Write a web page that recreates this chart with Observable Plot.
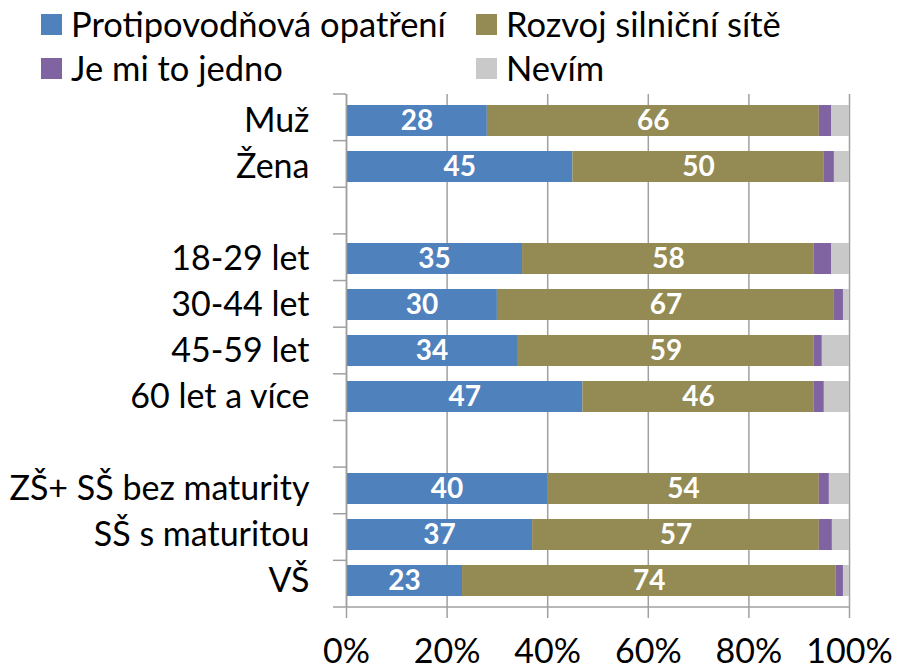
<!DOCTYPE html>
<html>
<head>
<meta charset="utf-8">
<script src="https://cdn.jsdelivr.net/npm/d3@7"></script>
<script src="https://cdn.jsdelivr.net/npm/@observablehq/plot@0.6"></script>
<style>
  html, body { margin: 0; padding: 0; background: #fff; }
  body { width: 906px; height: 669px; overflow: hidden; font-family: Lato, "Open Sans", sans-serif; }
  #legend { position: relative; width: 906px; height: 90px; }
  #chart svg { display: block; }
  .item { position: absolute; display: flex; align-items: center; font-size: 34.5px; color: #000; line-height: 1; white-space: nowrap; }
  .sw { width: 21px; height: 21px; margin-right: 9px; flex: none; }
</style>
</head>
<body>
<div id="legend"></div>
<div id="chart"></div>
<script>
const categories = ["Muž", "Žena", " ", "18-29 let", "30-44 let", "45-59 let", "60 let a více", "  ", "ZŠ+ SŠ bez maturity", "SŠ s maturitou", "VŠ"];
const groups = ["Muž", "Žena", "18-29 let", "30-44 let", "45-59 let", "60 let a více", "ZŠ+ SŠ bez maturity", "SŠ s maturitou", "VŠ"];
const series = ["Protipovodňová opatření", "Rozvoj silniční sítě", "Je mi to jedno", "Nevím"];
const colors = ["#4f81bd", "#948a54", "#8064a2", "#c9c9c9"];
const protipovodnova = [28, 45, 35, 30, 34, 47, 40, 37, 23];
const rozvoj = [66, 50, 58, 67, 59, 46, 54, 57, 74];
const jedno = [2.5, 2, 3.5, 1.8, 1.6, 2, 2, 2.6, 1.5];
const nevim = [3.5, 3, 3.5, 1.2, 5.4, 5, 4, 3.4, 1.2];
const labeled = ["Protipovodňová opatření", "Rozvoj silniční sítě"];
const xTicks = [0, 0.2, 0.4, 0.6, 0.8, 1];

const valuesBySeries = [protipovodnova, rozvoj, jedno, nevim];
const rows = [];
groups.forEach((g, i) => {
  series.forEach((s, j) => rows.push({category: g, series: s, value: valuesBySeries[j][i]}));
});

// legend
const legendPos = [[41, 14], [476, 14], [41, 58], [476, 58]];
const legend = document.getElementById("legend");
series.forEach((s, i) => {
  const it = document.createElement("div");
  it.className = "item";
  it.style.left = legendPos[i][0] + "px";
  it.style.top = (legendPos[i][1] - 7) + "px";
  it.style.height = "35px";
  const sw = document.createElement("span");
  sw.className = "sw";
  sw.style.background = colors[i];
  const tx = document.createElement("span");
  tx.textContent = s;
  it.appendChild(sw); it.appendChild(tx);
  legend.appendChild(it);
});

const gray = "#a0a0a0";
const n = categories.length;

function boundaryTicks(index, scales, values, dims) {
  const g = d3.create("svg:g").attr("stroke", gray).attr("stroke-width", 1.5);
  const top = dims.marginTop, bottom = dims.height - dims.marginBottom;
  for (let i = 0; i <= n; i++) {
    const y = top + (bottom - top) * i / n;
    g.append("line")
      .attr("x1", dims.marginLeft - 13)
      .attr("x2", i === n ? dims.width - dims.marginRight : dims.marginLeft)
      .attr("y1", y).attr("y2", y);
  }
  return g.node();
}

const stackOpts = {x: "value", y: "category", z: "series", offset: "normalize", order: null};

const chart = Plot.plot({
  width: 906,
  height: 579,
  marginTop: 4,
  marginBottom: 62,
  marginLeft: 346,
  marginRight: 57,
  style: {fontFamily: "Lato, 'Open Sans', sans-serif", color: "#000", background: "#fff"},
  x: {domain: [0, 1], axis: null, label: null},
  y: {domain: categories, paddingInner: 0.336, paddingOuter: 0.168, axis: null, label: null},
  color: {domain: series, range: colors},
  marks: [
    Plot.gridX(xTicks, {stroke: gray, strokeOpacity: 1, strokeWidth: 1.5}),
    Plot.barX(rows, Plot.stackX({...stackOpts, fill: "series"})),
    Plot.text(rows, Plot.stackX({
      ...stackOpts,
      text: d => labeled.includes(d.series) ? String(d.value) : "",
      fill: "white", fontWeight: "bold", fontSize: 28
    })),
    Plot.ruleX([0], {stroke: gray, strokeWidth: 1.5}),
    boundaryTicks,
    Plot.axisX(xTicks, {
      tickSize: 11, tickPadding: 20, stroke: gray, strokeWidth: 1.5, label: null,
      tickFormat: d3.format(".0%"), fontSize: 34, fill: "#000"
    }),
    Plot.axisY({tickSize: 0, tickPadding: 37, fontSize: 34, fill: "#000", label: null, tickFormat: d => d.trim()})
  ]
});
document.getElementById("chart").appendChild(chart);
</script>
</body>
</html>
